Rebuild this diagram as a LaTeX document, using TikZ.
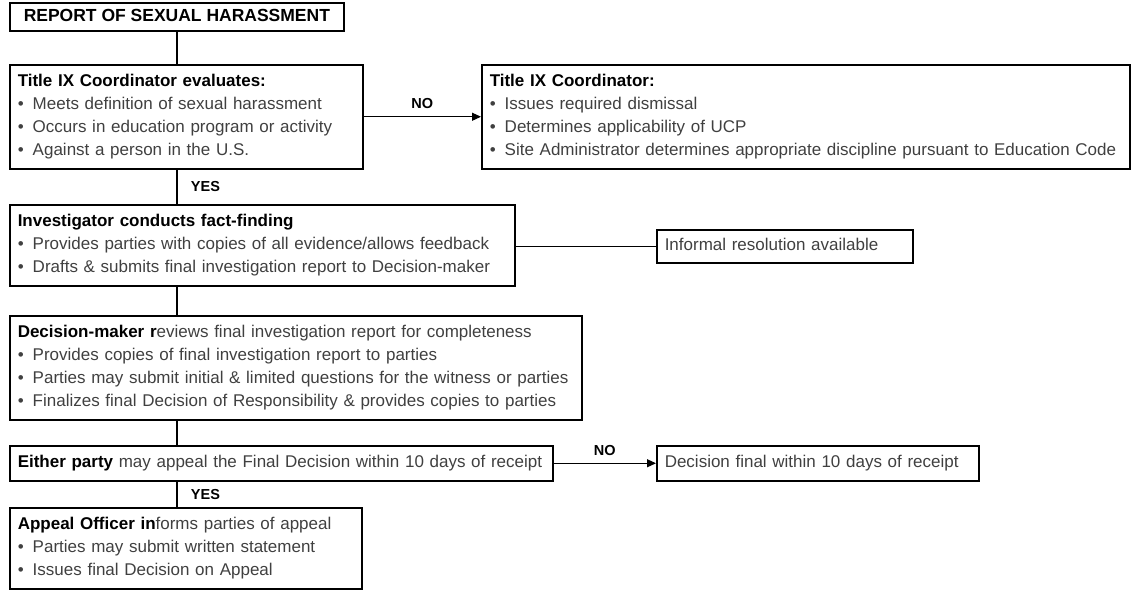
\documentclass[tikz,border=0pt]{standalone}
\usepackage{fontspec}
\setmainfont{Liberation Sans}
\usetikzlibrary{arrows.meta}
\newcommand{\bt}[1]{\textcolor{black}{\textbf{#1}}}
\newcommand{\ttl}[1]{\strut\bt{#1}}
\newcommand{\itm}[1]{\\\strut\makebox[15pt][l]{\textbullet}#1}
\tikzset{
  stepbox/.style={draw, line width=1.5pt, anchor=north west, align=left,
    inner xsep=8pt, inner ysep=6pt, font=\fontsize{17}{23}\selectfont, text=black!75},
  link/.style={line width=1.2pt},
  flow/.style={link, -{Triangle[length=9pt,width=8pt]}},
  tag/.style={font=\fontsize{14.5}{17}\selectfont\bfseries}
}
\begin{document}
\begin{tikzpicture}[x=1pt,y=-1pt]
  \useasboundingbox (0,0) rectangle (1133,590);
  \coordinate (spine) at (177,0);
  % main column
  \node[stepbox, font=\fontsize{17.5}{23}\selectfont, inner xsep=14pt, inner ysep=2.5pt] (report) at (9,2) {\ttl{REPORT OF SEXUAL HARASSMENT}};
  \node[stepbox, text width=337pt] (evaluate) at (9,64) {\ttl{Title IX Coordinator evaluates:}\itm{Meets definition of sexual harassment}\itm{Occurs in education program or activity}\itm{Against a person in the U.S.}};
  \node[stepbox, text width=489pt] (investigate) at (9,204) {\ttl{Investigator conducts fact-finding}\itm{Provides parties with copies of all evidence/allows feedback}\itm{Drafts \& submits final investigation report to Decision-maker}};
  \node[stepbox, text width=556pt] (decide) at (9,315) {\strut\bt{Decision-maker r}eviews final investigation report for completeness\itm{Provides copies of final investigation report to parties}\itm{Parties may submit initial \& limited questions for the witness or parties}\itm{Finalizes final Decision of Responsibility \& provides copies to parties}};
  \node[stepbox, text width=527pt] (either) at (9,445) {\strut\bt{Either party} may appeal the Final Decision within 10 days of receipt};
  \node[stepbox, text width=336pt] (officer) at (9,507) {\strut\bt{Appeal Officer in}forms parties of appeal\itm{Parties may submit written statement}\itm{Issues final Decision on Appeal}};
  % side boxes
  \node[stepbox, text width=632pt] (dismiss) at (481,64) {\ttl{Title IX Coordinator:}\itm{Issues required dismissal}\itm{Determines applicability of UCP}\itm{Site Administrator determines appropriate discipline pursuant to Education Code}};
  \node[stepbox, text width=240pt, inner ysep=5pt] (informal) at (656,229) {\strut Informal resolution available};
  \node[stepbox, text width=306pt] (final) at (656,445) {\strut Decision final within 10 days of receipt};
  % connectors
  \draw[link] (report.south -| spine) -- (evaluate.north -| spine);
  \draw[flow] (evaluate.east) -- node[tag, above=4pt] {NO} (dismiss.west);
  \draw[link] (evaluate.south -| spine) -- node[tag, right=10pt] {YES} (investigate.north -| spine);
  \draw[link] (informal.west) -- (informal.west -| investigate.east);
  \draw[link] (investigate.south -| spine) -- (decide.north -| spine);
  \draw[link] (decide.south -| spine) -- (either.north -| spine);
  \draw[flow] (either.east) -- node[tag, above=4pt] {NO} (final.west);
  \draw[link] (either.south -| spine) -- node[tag, right=10pt] {YES} (officer.north -| spine);
\end{tikzpicture}
\end{document}
